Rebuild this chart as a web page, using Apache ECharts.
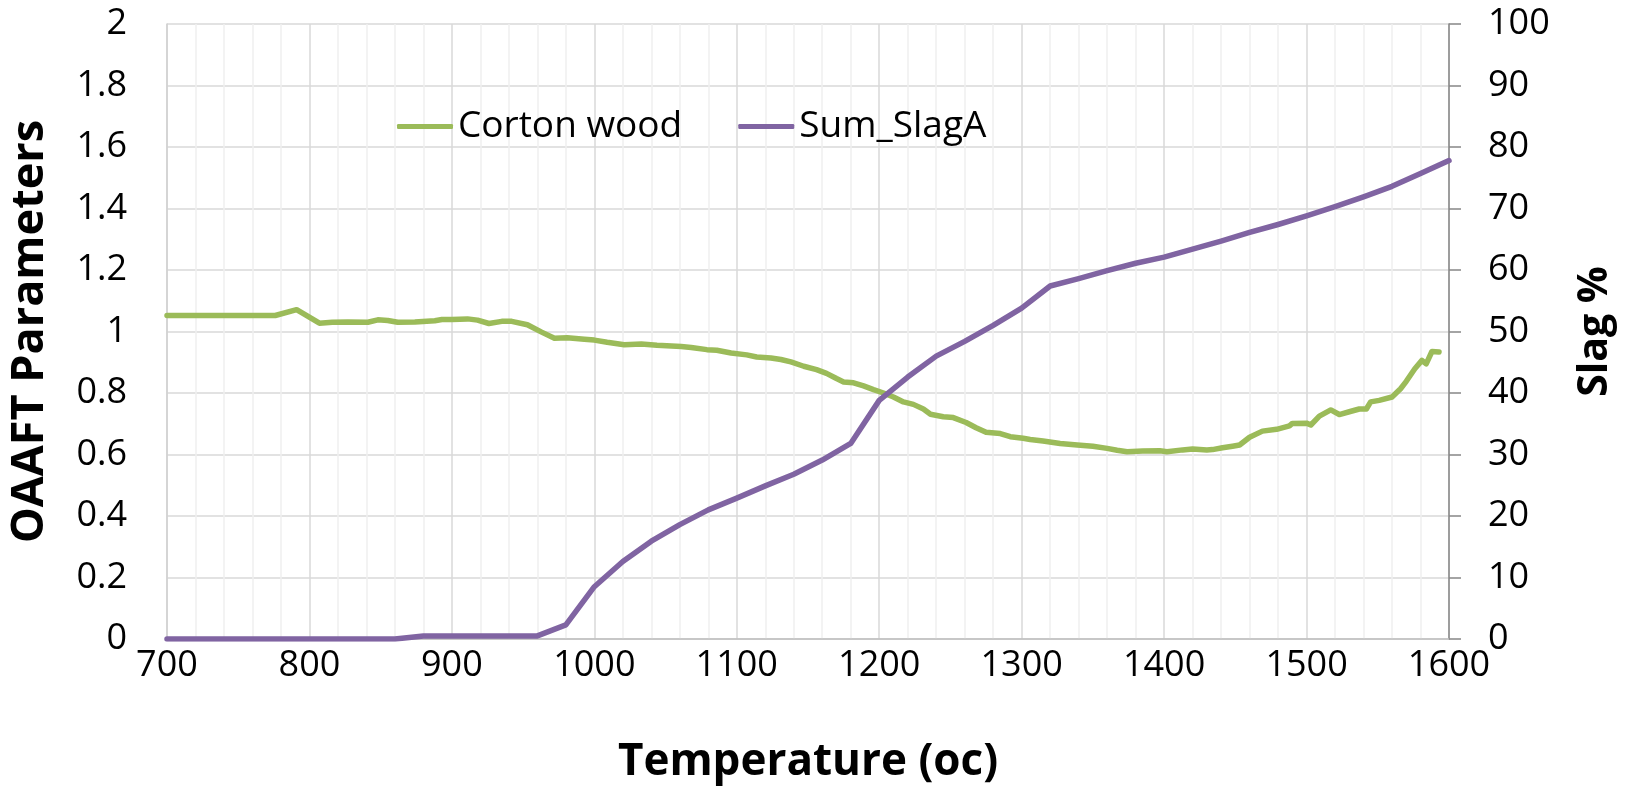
<!DOCTYPE html>
<html>
<head>
<meta charset="utf-8">
<script src="https://cdn.jsdelivr.net/npm/echarts@6/dist/echarts.min.js"></script>
<style>
  html, body { margin: 0; padding: 0; background: #fff; }
  #chart { width: 1637px; height: 789px; }
</style>
</head>
<body>
<div id="chart"></div>
<script>
// OAAFT parameter of Corton wood vs temperature
const woodTemps = [700, 776, 791, 807, 816, 827, 841, 848, 855, 862, 874, 888, 893, 900, 911, 918, 926, 935, 942, 953, 963, 972, 981, 993, 1000, 1009, 1021, 1033, 1044, 1061, 1068, 1079, 1086, 1096, 1107, 1114, 1124, 1131, 1138, 1147, 1156, 1163, 1170, 1175, 1182, 1189, 1196, 1203, 1210, 1217, 1224, 1231, 1236, 1245, 1252, 1261, 1268, 1275, 1285, 1292, 1301, 1306, 1315, 1327, 1339, 1350, 1360, 1367, 1374, 1385, 1397, 1402, 1413, 1420, 1430, 1434, 1441, 1448, 1453, 1460, 1469, 1479, 1488, 1490, 1500, 1503, 1509, 1517, 1523, 1530, 1537, 1542, 1545, 1551, 1560, 1566, 1570, 1576, 1581, 1584, 1588, 1593];
const woodValues = [1.052, 1.052, 1.071, 1.027, 1.030, 1.031, 1.030, 1.038, 1.036, 1.030, 1.031, 1.035, 1.039, 1.039, 1.041, 1.037, 1.026, 1.033, 1.033, 1.022, 0.998, 0.978, 0.980, 0.975, 0.972, 0.965, 0.957, 0.959, 0.955, 0.951, 0.948, 0.941, 0.939, 0.930, 0.924, 0.917, 0.914, 0.909, 0.901, 0.887, 0.876, 0.864, 0.847, 0.836, 0.833, 0.823, 0.811, 0.800, 0.787, 0.771, 0.763, 0.748, 0.731, 0.723, 0.720, 0.704, 0.687, 0.672, 0.668, 0.658, 0.653, 0.649, 0.644, 0.636, 0.631, 0.627, 0.620, 0.614, 0.609, 0.611, 0.612, 0.609, 0.615, 0.618, 0.615, 0.616, 0.622, 0.627, 0.631, 0.656, 0.676, 0.682, 0.693, 0.701, 0.702, 0.696, 0.725, 0.745, 0.730, 0.739, 0.748, 0.748, 0.771, 0.776, 0.787, 0.814, 0.838, 0.879, 0.906, 0.895, 0.935, 0.933];

// Cumulative slag percentage (right axis)
const slagTemps = [700, 720, 740, 760, 780, 800, 820, 840, 860, 880, 900, 920, 940, 960, 980, 1000, 1020, 1040, 1060, 1080, 1100, 1120, 1140, 1160, 1180, 1200, 1220, 1240, 1260, 1280, 1300, 1320, 1340, 1360, 1380, 1400, 1420, 1440, 1460, 1480, 1500, 1520, 1540, 1560, 1580, 1600];
const slagValues = [0, 0, 0, 0, 0, 0, 0, 0, 0, 0.5, 0.5, 0.5, 0.5, 0.5, 2.3, 8.5, 12.6, 15.9, 18.6, 21.0, 22.9, 24.9, 26.8, 29.1, 31.8, 38.8, 42.6, 46.0, 48.4, 51.0, 53.8, 57.4, 58.6, 59.9, 61.1, 62.1, 63.4, 64.7, 66.1, 67.4, 68.8, 70.3, 71.9, 73.6, 75.7, 77.8];

const seriesNames = ['Corton wood', 'Sum_SlagA'];
const axisTitles = { x: 'Temperature (oc)', left: 'OAAFT Parameters', right: 'Slag %' };

const FONT = '"Open Sans", "Noto Sans", sans-serif';
const zip = (xs, ys) => xs.map((x, i) => [x, ys[i]]);
const plain = (v) => String(v);

const chart = echarts.init(document.getElementById('chart'), null, { renderer: 'canvas' });
chart.setOption({
  backgroundColor: '#ffffff',
  animation: false,
  textStyle: { fontFamily: FONT },
  grid: { left: 164, right: 188, top: 24, bottom: 147, containLabel: false },
  legend: {
    data: seriesNames,
    left: 392,
    top: 103,
    icon: 'roundRect',
    itemWidth: 56,
    itemHeight: 5,
    itemGap: 56,
    textStyle: { fontSize: 37, color: '#000', fontFamily: FONT }
  },
  xAxis: {
    type: 'value',
    min: 700,
    max: 1600,
    interval: 100,
    name: axisTitles.x,
    nameLocation: 'middle',
    nameGap: 101,
    nameTextStyle: { fontSize: 44, fontWeight: 'bold', color: '#000', fontFamily: FONT },
    axisLine: { show: true, lineStyle: { color: '#bfbfbf', width: 1.5 } },
    axisTick: { show: false },
    axisLabel: { fontSize: 36, color: '#000', margin: 9, fontFamily: FONT, formatter: plain },
    splitLine: { show: true, lineStyle: { color: '#d9d9d9', width: 1.5 } },
    minorTick: { show: false, splitNumber: 5 },
    minorSplitLine: { show: true, lineStyle: { color: '#efefef', width: 1.5 } }
  },
  yAxis: [
    {
      type: 'value',
      min: 0,
      max: 2,
      interval: 0.2,
      position: 'left',
      name: axisTitles.left,
      nameLocation: 'middle',
      nameRotate: 90,
      nameGap: 114,
      nameTextStyle: { fontSize: 45, fontWeight: 'bold', color: '#000', fontFamily: FONT },
      axisLine: { show: true, lineStyle: { color: '#d0d0d0', width: 1.5 } },
      axisTick: { show: false },
      axisLabel: { fontSize: 36, color: '#000', margin: 40, fontFamily: FONT, formatter: plain },
      splitLine: { show: true, lineStyle: { color: '#d9d9d9', width: 1.5 } }
    },
    {
      type: 'value',
      min: 0,
      max: 100,
      interval: 10,
      position: 'right',
      name: axisTitles.right,
      nameLocation: 'middle',
      nameRotate: 90,
      nameGap: 126,
      nameTextStyle: { fontSize: 41, fontWeight: 'bold', color: '#000', fontFamily: FONT },
      axisLine: { show: true, lineStyle: { color: '#868686', width: 1.5 } },
      axisTick: { show: true, inside: false, length: 12, lineStyle: { color: '#868686', width: 1.5 } },
      axisLabel: { fontSize: 36, color: '#000', margin: 39, fontFamily: FONT, formatter: plain },
      splitLine: { show: false }
    }
  ],
  series: [
    {
      name: seriesNames[0],
      type: 'line',
      yAxisIndex: 0,
      data: zip(woodTemps, woodValues),
      showSymbol: false,
      symbol: 'none',
      lineStyle: { color: '#9bbb59', width: 5.5, cap: 'round', join: 'round' },
      itemStyle: { color: '#9bbb59' }
    },
    {
      name: seriesNames[1],
      type: 'line',
      yAxisIndex: 1,
      data: zip(slagTemps, slagValues),
      showSymbol: false,
      symbol: 'none',
      lineStyle: { color: '#8064a2', width: 5.5, cap: 'round', join: 'round' },
      itemStyle: { color: '#8064a2' }
    }
  ]
});
</script>
</body>
</html>
